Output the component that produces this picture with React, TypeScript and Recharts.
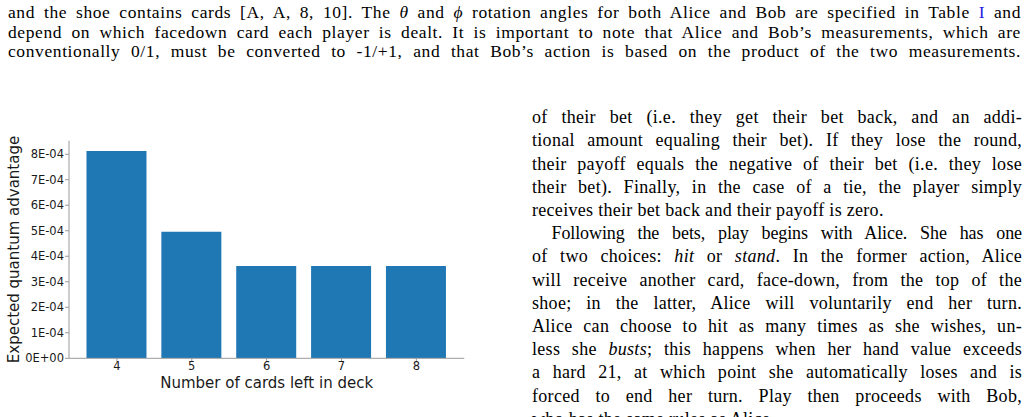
import React from 'react'
import { BarChart, Bar, XAxis, YAxis, Label } from 'recharts'

// cards left in the deck vs expected quantum advantage
const cardsLeft = [4, 5, 6, 7, 8]
const advantage = [8.13e-4, 4.96e-4, 3.62e-4, 3.62e-4, 3.62e-4]
const yTicks = [0, 1e-4, 2e-4, 3e-4, 4e-4, 5e-4, 6e-4, 7e-4, 8e-4]
const xDomain = [3.36, 8.64]
const yDomain = [0, 8.53e-4]

const chartData = cardsLeft.map((c, i) => ({ cards: c, adv: advantage[i] }))

const fmtSci = (v: number) => (v === 0 ? '0E+00' : `${Math.round(v * 1e4)}E-04`)

const axisFont = { fontFamily: 'DejaVu Sans', fill: '#1a1a1a' }
const frame = '#9a9a9a'

const topLines = [
  <>and the shoe contains cards [A, A, 8, 10]. The <i>θ</i> and <i>ϕ</i> rotation angles for both Alice and Bob are specified in Table <span style={{ color: '#1f1fe0' }}>I</span> and</>,
  <>depend on which facedown card each player is dealt. It is important to note that Alice and Bob’s measurements, which are</>,
  <>conventionally 0/1, must be converted to -1/+1, and that Bob’s action is based on the product of the two measurements.</>,
]

// [text, justified, indented]
const colLines: [React.ReactNode, boolean, boolean][] = [
  [<>of their bet (i.e. they get their bet back, and an addi-</>, true, false],
  [<>tional amount equaling their bet). If they lose the round,</>, true, false],
  [<>their payoff equals the negative of their bet (i.e. they lose</>, true, false],
  [<>their bet). Finally, in the case of a tie, the player simply</>, true, false],
  [<>receives their bet back and their payoff is zero.</>, false, false],
  [<>Following the bets, play begins with Alice. She has one</>, true, true],
  [<>of two choices: <i>hit</i> or <i>stand</i>. In the former action, Alice</>, true, false],
  [<>will receive another card, face-down, from the top of the</>, true, false],
  [<>shoe; in the latter, Alice will voluntarily end her turn.</>, true, false],
  [<>Alice can choose to hit as many times as she wishes, un-</>, true, false],
  [<>less she <i>busts</i>; this happens when her hand value exceeds</>, true, false],
  [<>a hard 21, at which point she automatically loses and is</>, true, false],
  [<>forced to end her turn. Play then proceeds with Bob,</>, true, false],
  [<>who has the same rules as Alice.</>, false, false],
]

const XTitle = (props: any) => {
  const { x, y, width } = props.viewBox
  return (
    <text x={x + width / 2} y={y + 30} textAnchor="middle" fontSize={15} {...axisFont}>
      Number of cards left in deck
    </text>
  )
}

const YTitle = (props: any) => {
  const { y, height } = props.viewBox
  const cy = y + height / 2
  return (
    <text x={18.7} y={cy} transform={`rotate(-90, 18.7, ${cy})`} textAnchor="middle" fontSize={15} {...axisFont}>
      Expected quantum advantage
    </text>
  )
}

function AdvantageChart() {
  return (
    <BarChart width={480} height={275} data={chartData} margin={{ top: 10.7, right: 15.7, bottom: 15, left: 0 }}>
      <XAxis
        dataKey="cards"
        type="number"
        domain={xDomain}
        ticks={cardsLeft}
        allowDataOverflow
        height={31.7}
        tickSize={3.5}
        tickMargin={0}
        stroke={frame}
        tick={{ fontSize: 11.5, ...axisFont }}
      >
        <Label content={XTitle} />
      </XAxis>
      <XAxis xAxisId="top" orientation="top" dataKey="cards" type="number" domain={xDomain} allowDataOverflow height={0} tick={false} tickLine={false} stroke={frame} />
      <YAxis
        type="number"
        domain={yDomain}
        ticks={yTicks}
        allowDataOverflow
        tickFormatter={fmtSci}
        width={69}
        tickSize={4}
        tickMargin={1}
        stroke={frame}
        tick={{ fontSize: 11.5, ...axisFont }}
      >
        <Label content={YTitle} />
      </YAxis>
      <YAxis yAxisId="right" orientation="right" type="number" domain={yDomain} allowDataOverflow width={0} tick={false} tickLine={false} stroke={frame} />
      <Bar dataKey="adv" fill="#1f77b4" barSize={60} isAnimationActive={false} />
    </BarChart>
  )
}

export default function App() {
  return (
    <div style={{ position: 'absolute', left: 0, top: 0, width: 1028, height: 417, overflow: 'hidden', background: '#fff', fontFamily: '"Liberation Serif", serif', color: '#000' }}>
      <div style={{ position: 'absolute', left: 8, top: 3.45, width: 1013, fontSize: 17.5, lineHeight: '19.3px', letterSpacing: 0.6 }}>
        {topLines.map((l, i) => (
          <div key={i} style={{ textAlign: 'justify', textAlignLast: 'justify' }}>{l}</div>
        ))}
      </div>
      <div style={{ position: 'absolute', left: 0, top: 130 }}>
        <AdvantageChart />
      </div>
      <div style={{ position: 'absolute', left: 532, top: 106.3, width: 490, fontSize: 18, lineHeight: '23.2px', letterSpacing: 0.3 }}>
        {colLines.map(([l, just, indent], i) => (
          <div
            key={i}
            style={{
              height: 23.2,
              textAlign: just ? 'justify' : 'left',
              textAlignLast: just ? 'justify' : 'left',
              textIndent: indent ? 19.5 : 0,
              letterSpacing: indent ? -0.1 : undefined,
            }}
          >
            {l}
          </div>
        ))}
      </div>
    </div>
  )
}
